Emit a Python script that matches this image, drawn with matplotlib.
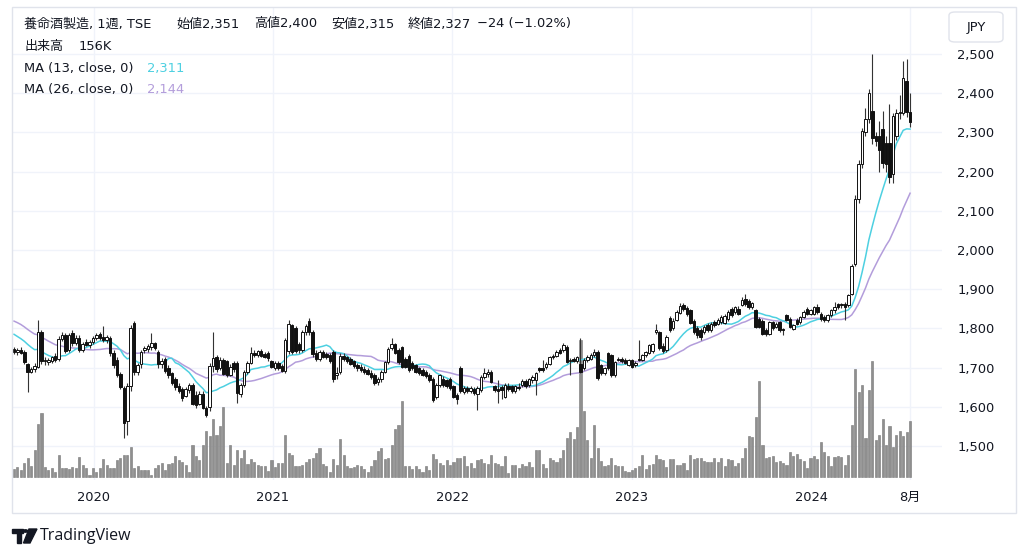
import numpy as np
import pandas as pd
import matplotlib
matplotlib.use('Agg')
import matplotlib.pyplot as plt
import matplotlib.transforms as mtrans
from matplotlib.patches import Rectangle, FancyBboxPatch, Polygon, Circle

plt.rcParams['font.family'] = ['DejaVu Sans', 'Noto Sans CJK JP']

# ---------------- data (weekly) ----------------
prior_closes = [1850, 1860, 1870, 1865, 1855, 1850, 1845, 1860, 1855, 1850, 1845, 1840, 1835,
                1820, 1810, 1800, 1795, 1790, 1785, 1780, 1790, 1785, 1780, 1770, 1760]

candles = [
 (1748,1752,1735,1740),(1740,1750,1732,1746),(1746,1752,1735,1738),(1740,1744,1710,1715),(1708,1712,1638,1690),
 (1690,1702,1686,1696),(1696,1712,1690,1705),(1702,1822,1698,1790),(1790,1796,1710,1716),(1716,1728,1706,1720),
 (1714,1724,1706,1720),(1718,1730,1712,1726),(1730,1736,1714,1720),(1722,1780,1718,1772),(1774,1790,1768,1784),
 (1784,1788,1736,1742),(1744,1788,1740,1782),(1788,1796,1756,1762),(1764,1784,1758,1776),(1776,1782,1740,1746),
 (1746,1766,1740,1760),(1766,1772,1754,1758),(1758,1770,1750,1766),(1766,1780,1760,1776),(1776,1788,1770,1782),
 (1786,1792,1770,1776),(1778,1806,1766,1770),(1770,1784,1764,1778),(1776,1780,1730,1736),(1738,1744,1700,1706),
 (1720,1726,1676,1682),(1684,1690,1645,1650),(1648,1652,1520,1558),(1565,1662,1528,1652),(1652,1808,1640,1800),
 (1814,1818,1680,1688),(1690,1712,1680,1706),(1708,1746,1700,1740),(1744,1756,1736,1750),(1748,1760,1740,1756),
 (1752,1788,1744,1762),(1762,1766,1744,1750),(1740,1744,1700,1708),(1708,1724,1700,1718),(1722,1726,1686,1692),
 (1700,1706,1674,1680),(1686,1690,1656,1662),(1670,1676,1644,1650),(1652,1660,1634,1640),(1646,1650,1616,1622),
 (1628,1650,1624,1646),(1642,1662,1636,1656),(1656,1662,1604,1608),(1630,1640,1598,1604),(1608,1640,1604,1632),
 (1632,1640,1594,1598),(1598,1602,1574,1580),(1600,1712,1590,1704),(1704,1792,1690,1724),(1726,1732,1690,1696),
 (1700,1726,1694,1720),(1720,1724,1680,1684),(1716,1720,1676,1682),(1682,1710,1678,1702),(1712,1718,1690,1696),
 (1712,1716,1609,1634),(1632,1660,1626,1656),(1656,1694,1650,1688),(1688,1716,1684,1712),(1712,1752,1708,1738),
 (1738,1746,1726,1732),(1732,1746,1726,1742),(1742,1748,1726,1730),(1734,1740,1724,1728),(1738,1742,1718,1724),
 (1716,1720,1698,1702),(1700,1716,1694,1712),(1712,1716,1694,1700),(1704,1708,1688,1692),(1692,1776,1686,1770),
 (1742,1822,1734,1810),(1808,1812,1734,1740),(1800,1806,1736,1742),(1760,1766,1738,1746),(1746,1796,1740,1790),
 (1790,1812,1784,1806),(1818,1826,1784,1790),(1790,1796,1728,1734),(1738,1744,1716,1722),(1722,1746,1718,1740),
 (1740,1746,1724,1728),(1734,1740,1722,1728),(1732,1736,1712,1718),(1740,1744,1664,1670),(1680,1702,1672,1686),
 (1688,1736,1684,1730),(1730,1736,1716,1722),(1726,1730,1712,1716),(1722,1728,1706,1710),(1716,1720,1700,1704),
 (1706,1712,1692,1698),(1702,1708,1690,1694),(1696,1704,1684,1688),(1694,1700,1680,1684),(1686,1694,1672,1676),
 (1680,1686,1656,1660),(1664,1676,1656,1670),(1670,1694,1664,1690),(1690,1718,1686,1714),(1714,1752,1710,1748),
 (1750,1776,1744,1760),(1760,1764,1734,1738),(1746,1750,1710,1714),(1752,1756,1698,1702),(1722,1728,1698,1702),
 (1730,1734,1690,1694),(1712,1716,1694,1698),(1706,1710,1686,1690),(1698,1702,1682,1686),(1694,1698,1678,1682),
 (1690,1694,1674,1678),(1680,1686,1664,1668),(1672,1676,1612,1618),(1626,1660,1620,1656),(1656,1684,1650,1680),
 (1672,1678,1650,1656),(1668,1672,1648,1652),(1672,1676,1644,1648),(1652,1656,1622,1626),(1630,1634,1606,1620),
 (1698,1704,1636,1640),(1638,1652,1632,1648),(1648,1654,1636,1640),(1640,1652,1634,1648),(1646,1650,1630,1634),
 (1632,1652,1592,1648),(1642,1680,1638,1676),(1676,1698,1670,1686),(1684,1696,1676,1690),(1690,1694,1660,1664),
 (1652,1656,1638,1642),(1646,1668,1610,1640),(1650,1656,1620,1642),(1626,1660,1622,1656),(1652,1660,1640,1646),
 (1652,1656,1636,1640),(1640,1656,1636,1652),(1650,1660,1644,1648),(1656,1670,1650,1666),(1666,1670,1648,1652),
 (1656,1674,1650,1670),(1668,1680,1660,1676),(1668,1690,1630,1686),(1698,1702,1688,1694),(1700,1720,1690,1694),
 (1702,1714,1696,1710),(1710,1730,1706,1727),(1730,1734,1722,1726),(1730,1744,1726,1740),(1744,1750,1734,1738),
 (1744,1762,1740,1757),(1753,1758,1712,1715),(1716,1724,1680,1720),(1722,1726,1714,1718),(1716,1730,1712,1726),
 (1710,1776,1686,1690),(1698,1724,1694,1719),(1719,1732,1714,1726),(1723,1736,1720,1731),(1731,1748,1728,1740),
 (1740,1744,1668,1674),(1706,1710,1682,1686),(1686,1702,1682,1698),(1736,1740,1694,1698),(1731,1734,1676,1680),
 (1680,1718,1676,1714),(1723,1728,1716,1719),(1722,1726,1712,1716),(1720,1724,1708,1712),(1706,1722,1704,1719),
 (1719,1722,1700,1702),(1706,1716,1702,1712),(1723,1770,1716,1719),(1719,1734,1716,1731),(1731,1742,1728,1740),
 (1736,1760,1734,1757),(1742,1764,1738,1761),(1792,1812,1786,1795),(1790,1794,1744,1750),(1755,1762,1738,1742),
 (1745,1782,1740,1778),(1826,1832,1790,1796),(1800,1826,1796,1820),(1822,1846,1818,1842),(1840,1866,1836,1858),
 (1860,1866,1844,1850),(1852,1856,1832,1838),(1846,1850,1810,1815),(1820,1824,1786,1790),(1800,1806,1776,1782),
 (1795,1800,1770,1778),(1791,1808,1786,1804),(1808,1814,1792,1796),(1795,1816,1790,1812),(1816,1822,1804,1808),
 (1812,1826,1808,1821),(1816,1834,1812,1829),(1815,1836,1812,1832),(1825,1846,1820,1842),(1850,1854,1830,1833),
 (1842,1858,1838,1854),(1850,1856,1834,1838),(1860,1880,1856,1872),(1876,1888,1858,1862),(1870,1874,1850,1855),
 (1855,1868,1850,1864),(1846,1850,1800,1804),(1825,1830,1800,1804),(1820,1824,1782,1787),(1795,1800,1780,1787),
 (1787,1820,1782,1816),(1816,1820,1796,1800),(1804,1816,1800,1812),(1816,1820,1790,1795),(1799,1802,1782,1795),
 (1833,1838,1818,1821),(1825,1830,1800,1804),(1799,1812,1796,1808),(1821,1826,1808,1812),(1816,1832,1812,1829),
 (1829,1846,1826,1842),(1850,1854,1834,1838),(1838,1850,1834,1846),(1838,1858,1834,1854),(1854,1863,1838,1842),
 (1838,1842,1820,1825),(1829,1834,1816,1821),(1821,1836,1816,1833),(1833,1850,1828,1846),(1846,1867,1840,1854),
 (1863,1866,1850,1854),(1859,1866,1852,1863),(1863,1868,1822,1855),(1859,1888,1854,1884),(1888,1965,1884,1960),
 (1965,2140,1960,2130),(2130,2230,2120,2219),(2219,2310,2210,2304),(2300,2363,2290,2334),(2334,2410,2325,2401),
 (2355,2499,2270,2287),(2291,2300,2265,2278),(2290,2330,2200,2255),(2308,2355,2210,2223),(2274,2290,2200,2219),
 (2274,2372,2170,2185),(2194,2350,2172,2342),(2290,2360,2280,2350),(2350,2395,2335,2352),(2350,2482,2345,2440),
 (2431,2487,2340,2351),(2351,2400,2315,2327),
]
opens = [c[0] for c in candles]
highs = [c[1] for c in candles]
lows = [c[2] for c in candles]
closes = [c[3] for c in candles]

volumes_k = [
 23, 28, 19, 38, 52, 31, 75, 149, 180, 28,
 21, 24, 15, 62, 26, 26, 22, 28, 25, 56,
 34, 25, 5, 26, 15, 26, 50, 34, 24, 26,
 47, 54, 62, 62, 84, 26, 32, 21, 21, 20,
 7, 26, 35, 40, 21, 37, 38, 58, 47, 43,
 34, 15, 89, 59, 47, 89, 129, 116, 163, 119,
 143, 197, 40, 91, 35, 75, 52, 77, 37, 50,
 43, 35, 31, 31, 17, 47, 28, 39, 39, 119,
 68, 62, 32, 32, 34, 43, 51, 52, 67, 81,
 37, 32, 14, 50, 34, 106, 61, 32, 25, 28,
 35, 32, 22, 15, 30, 49, 73, 80, 50, 52,
 91, 134, 146, 214, 30, 30, 22, 30, 22, 15,
 30, 19, 65, 50, 39, 35, 49, 34, 43, 52,
 52, 58, 30, 39, 24, 49, 50, 39, 37, 62,
 39, 37, 30, 60, 11, 35, 35, 24, 37, 30,
 41, 28, 77, 77, 37, 26, 52, 49, 43, 54,
 75, 108, 127, 106, 140, 383, 185, 104, 52, 146,
 82, 45, 32, 35, 54, 34, 32, 30, 17, 13,
 19, 24, 30, 63, 22, 34, 37, 63, 50, 47,
 28, 50, 50, 35, 34, 39, 19, 62, 50, 54,
 54, 45, 41, 43, 54, 43, 54, 30, 50, 49,
 30, 39, 52, 80, 116, 112, 168, 269, 90, 52,
 56, 58, 41, 45, 39, 35, 71, 58, 65, 50,
 45, 24, 54, 60, 50, 97, 71, 58, 30, 56,
 60, 56, 35, 62, 147, 302, 237, 258, 110, 243,
 325, 104, 119, 162, 90, 142, 84, 119, 129, 114,
 127, 156,
]

time_tick_pos = [23.3, 75.4, 127.6, 180.0, 232.2, 261.0]
time_tick_labels = ['2020', '2021', '2022', '2023', '2024', '8月']
price_ticks = [1500, 1600, 1700, 1800, 1900, 2000, 2100, 2200, 2300, 2400, 2500]

header_parts = [('養命酒製造, 1週, TSE', 24), ('始値2,351', 176), ('高値2,400', 254),
                ('安値2,315', 331), ('終値2,327', 408), ('−24 (−1.02%)', 477)]
ma13_label, ma13_value = 'MA (13, close, 0)', '2,311'
ma26_label, ma26_value = 'MA (26, close, 0)', '2,144'
volume_label, volume_value = '出来高', '156K'

# ---------------- figure ----------------
W, H = 1024, 557
fig = plt.figure(figsize=(W / 100, H / 100), dpi=100)
fig.patch.set_facecolor('white')

def fx(x):
    return x / W

def fy(y):
    return 1 - y / H

TXT = '#131722'
GRID = '#f0f3fa'
C13 = '#4dd0e1'
C26 = '#b39ddb'
HFS = 9.4

# frame
fig.patches.append(Rectangle((fx(12), fy(513)), fx(1016) - fx(12), fy(7) - fy(513),
                             transform=fig.transFigure, fill=False, edgecolor='#e0e3eb', lw=1.0))

axv = fig.add_axes([fx(12), fy(480), fx(942) - fx(12), fy(7) - fy(480)])
ax = fig.add_axes([fx(12), fy(480), fx(942) - fx(12), fy(7) - fy(480)], sharex=axv)
ax.patch.set_visible(False)

n = len(closes)
x = np.arange(n)
o = np.array(opens, float); h = np.array(highs, float)
l = np.array(lows, float); c = np.array(closes, float)

ax.set_xlim(-0.58, 270.3)
ax.set_ylim(1413.3, 2619.9)
axv.set_ylim(-8.4, 1316)

# grid (drawn in the lower axes so it stays beneath everything)
tr = mtrans.blended_transform_factory(axv.transAxes, ax.transData)
for p in price_ticks:
    axv.plot([0, 1], [p, p], transform=tr, color=GRID, lw=1.0, zorder=0)
for t in time_tick_pos:
    axv.axvline(t, color=GRID, lw=1.0, zorder=0)

# volume
axv.bar(x, volumes_k, width=0.62, color='#8f8f8f', edgecolor='#767676', linewidth=0.4, zorder=1)

# moving averages
allc = pd.Series(list(prior_closes) + list(closes), dtype=float)
ma13 = allc.rolling(13).mean().to_numpy()[-n:]
ma26 = allc.rolling(26).mean().to_numpy()[-n:]
ax.plot(x, ma26, color=C26, lw=1.1, zorder=2)
ax.plot(x, ma13, color=C13, lw=1.1, zorder=2)

# candles
up = c >= o
ax.vlines(x, l, h, color='#333333', lw=0.8, zorder=3)
bot = np.minimum(o, c)
hgt = np.maximum(np.abs(c - o), 1.5)
ax.bar(x[up], hgt[up], bottom=bot[up], width=0.72, color='white', edgecolor='#111111',
       linewidth=0.7, zorder=4)
ax.bar(x[~up], hgt[~up], bottom=bot[~up], width=0.72, color='#111111', edgecolor='#111111',
       linewidth=0.7, zorder=4)

# axes styling
for a in (ax, axv):
    for s in a.spines.values():
        s.set_visible(False)
axv.set_yticks([])
axv.tick_params(axis='x', length=0, labelbottom=False)
ax.yaxis.tick_right()
ax.set_yticks(price_ticks)
ax.set_yticklabels([f'{p:,}' for p in price_ticks])
ax.tick_params(axis='y', length=0, pad=11, labelsize=HFS, labelcolor=TXT)
ax.set_xticks(time_tick_pos)
ax.set_xticklabels(time_tick_labels)
ax.tick_params(axis='x', length=0, pad=8, labelsize=HFS, labelcolor=TXT)

# header texts
for s, xp in header_parts:
    fig.text(fx(xp), fy(24), s, fontsize=HFS, color=TXT, va='center', ha='left')
fig.text(fx(24), fy(46.5), volume_label, fontsize=HFS, color=TXT, va='center', ha='left')
fig.text(fx(79), fy(46.5), volume_value, fontsize=HFS, color=TXT, va='center', ha='left')
fig.text(fx(24), fy(68.5), ma13_label, fontsize=HFS, color=TXT, va='center', ha='left')
fig.text(fx(147), fy(68.5), ma13_value, fontsize=HFS, color=C13, va='center', ha='left')
fig.text(fx(24), fy(90), ma26_label, fontsize=HFS, color=TXT, va='center', ha='left')
fig.text(fx(147), fy(90), ma26_value, fontsize=HFS, color=C26, va='center', ha='left')

# JPY button
fig.patches.append(FancyBboxPatch((fx(949), fy(42)), fx(1003) - fx(949), fy(12) - fy(42),
                                  boxstyle='round,pad=0,rounding_size=0.006',
                                  transform=fig.transFigure, facecolor='white',
                                  edgecolor='#e0e3eb', lw=1.0))
fig.text(fx(976), fy(27), 'JPY', fontsize=HFS, color=TXT, va='center', ha='center')

# TradingView logo
logo = '#131722'
fig.patches.append(Rectangle((fx(12), fy(533)), fx(23) - fx(12), fy(529) - fy(533),
                             transform=fig.transFigure, color=logo))
fig.patches.append(Rectangle((fx(16.5), fy(543)), fx(21) - fx(16.5), fy(533) - fy(543),
                             transform=fig.transFigure, color=logo))
fig.patches.append(Circle((fx(25.5), fy(531)), 2.2 / W, transform=fig.transFigure, color=logo))
fig.patches.append(Polygon([(fx(29), fy(529)), (fx(37), fy(529)), (fx(30), fy(543)), (fx(23.5), fy(543))],
                           closed=True, transform=fig.transFigure, color=logo))
fig.text(fx(40), fy(536), 'TradingView', fontsize=11.5, color=logo, va='center', ha='left',
         family=['Open Sans', 'DejaVu Sans'])

fig.savefig('out.png', dpi=100, facecolor='white')
